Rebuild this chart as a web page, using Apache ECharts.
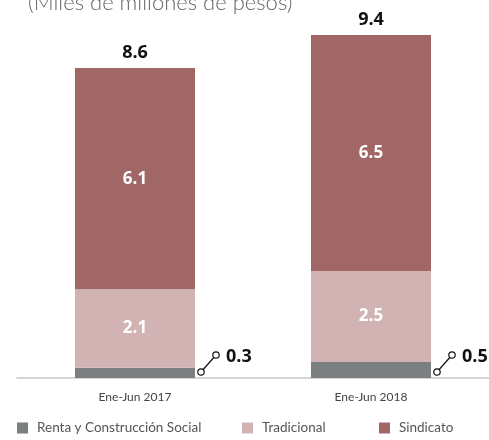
<!DOCTYPE html>
<html><head><meta charset="utf-8">
<script src="https://cdn.jsdelivr.net/npm/echarts@6/dist/echarts.min.js"></script>
<style>html,body{margin:0;padding:0;background:#fff}#c{width:489px;height:440px}</style>
</head><body><div id="c"></div>
<script>
const categories = ['Ene-Jun 2017', 'Ene-Jun 2018'];
const renta = [0.28, 0.44];
const tradicional = [2.15, 2.49];
const sindicato = [6.06, 6.47];
const rentaLabels = ['0.3', '0.5'];
const tradicionalLabels = ['2.1', '2.5'];
const sindicatoLabels = ['6.1', '6.5'];
const totalLabels = ['8.6', '9.4'];
const seriesNames = ['Renta y Construcción Social', 'Tradicional', 'Sindicato'];
const colors = ['#7b7f7f', '#d2b3b3', '#a06766'];
const titleText = '(Miles de millones de pesos)';

const font = 'Lato, "Open Sans", sans-serif';
const chart = echarts.init(document.getElementById('c'), null, {renderer: 'canvas'});

function inner(labels) {
  return {show: true, position: 'inside', color: '#fff', fontWeight: 'bold', fontSize: 17,
    fontFamily: '"Open Sans", sans-serif', formatter: p => labels[p.dataIndex]};
}
const legendLefts = [12, 237, 374];
const legends = seriesNames.map((n, i) => ({
  bottom: 0, left: legendLefts[i], itemWidth: 11, itemHeight: 11, icon: 'rect', data: [n],
  selectedMode: false,
  textStyle: {fontFamily: font, fontSize: 13.5, color: '#555', padding: [0, 0, 0, 4]}
}));

chart.setOption({
  animation: false,
  color: colors,
  title: {text: titleText, left: 23, top: -13,
    textStyle: {fontFamily: font, fontWeight: 300, fontSize: 22, color: '#666'}},
  grid: {left: 17, top: 13, width: 480, bottom: 62, containLabel: false},
  legend: legends,
  xAxis: {type: 'category', data: categories,
    axisLine: {lineStyle: {color: '#c8c8c8', width: 1.5}},
    axisTick: {show: false},
    axisLabel: {fontFamily: font, fontSize: 12, color: '#444', margin: 13}},
  yAxis: {type: 'value', min: 0, max: 10, show: false, splitLine: {show: false}},
  series: [
    {name: seriesNames[0], type: 'bar', stack: 's', barWidth: 120, data: renta},
    {name: seriesNames[1], type: 'bar', stack: 's', data: tradicional, label: inner(tradicionalLabels)},
    {name: seriesNames[2], type: 'bar', stack: 's', data: sindicato, label: inner(sindicatoLabels)},
    {name: 'total', type: 'bar', stack: 's', data: categories.map(() => 0),
      label: {show: true, position: 'top', distance: 6, color: '#111', fontWeight: 'bold', fontSize: 18,
        fontFamily: '"Open Sans", sans-serif', formatter: p => totalLabels[p.dataIndex]}},
    {name: 'leader', type: 'custom', data: renta.map((v, i) => [i, v]),
      renderItem: function (params, api) {
        const base = api.coord([api.value(0), 0]);
        const band = api.size([1, 0])[0];
        const bx = base[0] + band / 4 + 7;
        const by = base[1] - 6;
        const ex = bx + 15, ey = by - 17;
        const st = {stroke: '#111', lineWidth: 1.2, fill: '#fff'};
        return {type: 'group', children: [
          {type: 'line', shape: {x1: bx, y1: by, x2: ex, y2: ey}, style: {stroke: '#111', lineWidth: 1.2}},
          {type: 'circle', shape: {cx: bx, cy: by, r: 3.2}, style: st},
          {type: 'circle', shape: {cx: ex, cy: ey, r: 3.2}, style: st},
          {type: 'text', style: {x: ex + 10, y: ey + 2, text: rentaLabels[params.dataIndex],
            fill: '#111', font: 'bold 18px "Open Sans", sans-serif', verticalAlign: 'middle'}}
        ]};
      }}
  ]
});
</script></body></html>
